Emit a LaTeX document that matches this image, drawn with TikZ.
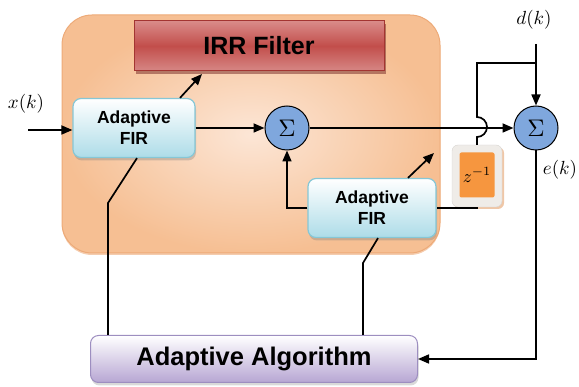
\documentclass[tikz,border=0pt]{standalone}
\usepackage{fontspec}
\setmainfont{Liberation Sans}
\usetikzlibrary{arrows.meta,shadows,calc}
\definecolor{panelin}{HTML}{FCE6D6}
\definecolor{panelout}{HTML}{F6BF93}
\definecolor{panelborder}{HTML}{EDAA78}
\definecolor{irrtop}{HTML}{D98B89}
\definecolor{irrmid}{HTML}{C24E4B}
\definecolor{irrbot}{HTML}{D68785}
\definecolor{irrborder}{HTML}{A33532}
\definecolor{firbot}{HTML}{ADDCE8}
\definecolor{firborder}{HTML}{86C7D6}
\definecolor{sumblue}{HTML}{7FA7DD}
\definecolor{zgray}{HTML}{EFECE8}
\definecolor{zorange}{HTML}{F6963F}
\definecolor{algbot}{HTML}{B7A6D3}
\definecolor{algborder}{HTML}{9D8EC0}
\begin{document}
\begin{tikzpicture}[x=1pt,y=-1pt,
  line width=1.7pt,
  arr/.style={-{Triangle[length=11pt,width=9pt]}},
  firbox/.style={draw=firborder, line width=1.2pt, rounded corners=8pt,
    top color=white, bottom color=firbot, minimum width=122pt, minimum height=59pt,
    align=center, font=\fontsize{17.5}{21}\selectfont\bfseries,
    drop shadow={shadow xshift=1pt, shadow yshift=-3pt, opacity=0.35}},
  sumnode/.style={circle, draw, line width=1pt, fill=sumblue, minimum size=44pt,
    inner sep=0pt}]
\useasboundingbox (0,0) rectangle (579,387);

% panel
\node[draw=panelborder, line width=1pt, rounded corners=30pt, inner color=panelin,
  outer color=panelout, minimum width=378pt, minimum height=238pt,
  drop shadow={shadow xshift=0pt, shadow yshift=-2pt, opacity=0.6, fill=panelborder}]
  (panel) at (251,134) {};

% IRR filter
\node[draw=irrborder, line width=1pt, top color=irrtop, bottom color=irrbot,
  middle color=irrmid, minimum width=250pt, minimum height=50pt,
  font=\fontsize{25}{27}\selectfont\bfseries,
  drop shadow={shadow xshift=2pt, shadow yshift=-3pt, opacity=0.5, fill=irrborder!70!black}]
  (irr) at (259,46) {IRR Filter};

% adaptive FIR boxes
\node[firbox] (fir1) at (134,128) {Adaptive\\FIR};
\node[firbox, minimum width=128pt] (fir2) at (372,208) {Adaptive\\FIR};

% sums
\node[sumnode] (sum1) at (287,128) {\scalebox{2.4}{$\Sigma$}};
\node[sumnode] (sum2) at (536,128) {\scalebox{2.4}{$\Sigma$}};

% delay
\node[fill=zgray, draw=zgray!90!black, line width=0.4pt, rounded corners=6pt,
  minimum width=50pt, minimum height=62pt,
  drop shadow={shadow xshift=2pt, shadow yshift=-2pt, opacity=0.6, fill=panelborder!80!brown}] (zbox) at (477,176) {};
\node[fill=zorange, rounded corners=2pt, minimum width=35pt, minimum height=45pt,
  inner sep=0pt] (zin) at (477,175) {\scalebox{1.8}{$z^{-1}$}};

% algorithm
\node[draw=algborder, line width=1pt, rounded corners=8pt, top color=white,
  bottom color=algbot, minimum width=327pt, minimum height=47pt,
  font=\fontsize{25.5}{27}\selectfont\bfseries,
  drop shadow={shadow xshift=1pt, shadow yshift=-3pt, opacity=0.3}]
  (algo) at (254,359) {Adaptive Algorithm};

% labels
\node (xk) at (26,104) {\scalebox{1.9}{$x(k)$}};
\node (dk) at (534,20) {\scalebox{1.9}{$d(k)$}};
\node (ek) at (560,170) {\scalebox{1.9}{$e(k)$}};

% coordinates
\coordinate (xin) at (28,130);
\coordinate (dtop) at (536,44);
\coordinate (branch) at (536,63);
\coordinate (bl) at (477,63);
\coordinate (jt) at (477,117);
\coordinate (k1) at (108,203);
\coordinate (k2) at (363,263);
\coordinate (t1) at (202,74);
\coordinate (t2) at (434,153);

% connectors
\draw[arr] (xin) -- (fir1.west |- xin);
\draw[arr] (fir1.east) -- (sum1.west);
\draw[arr] (sum1.east) -- (sum2.west);
\draw[arr] (dtop) -- (sum2.north);
\draw (branch) -- (bl) -- (jt) arc[start angle=-90, end angle=90, radius=10] -- (zbox.north);
\draw (zbox.south) |- (fir2.east);
\draw[arr] (fir2.west) -| (sum1.south);
\draw[arr] (sum2.south) |- (algo.east);
\draw (algo.north -| k1) -- (k1) -- ([xshift=3pt]fir1.south);
\draw[arr] ([xshift=46pt]fir1.north) -- (t1);
\draw (algo.north -| k2) -- (k2) -- ([xshift=6pt]fir2.south);
\draw[arr] ([xshift=36pt]fir2.north) -- (t2);
\end{tikzpicture}
\end{document}
